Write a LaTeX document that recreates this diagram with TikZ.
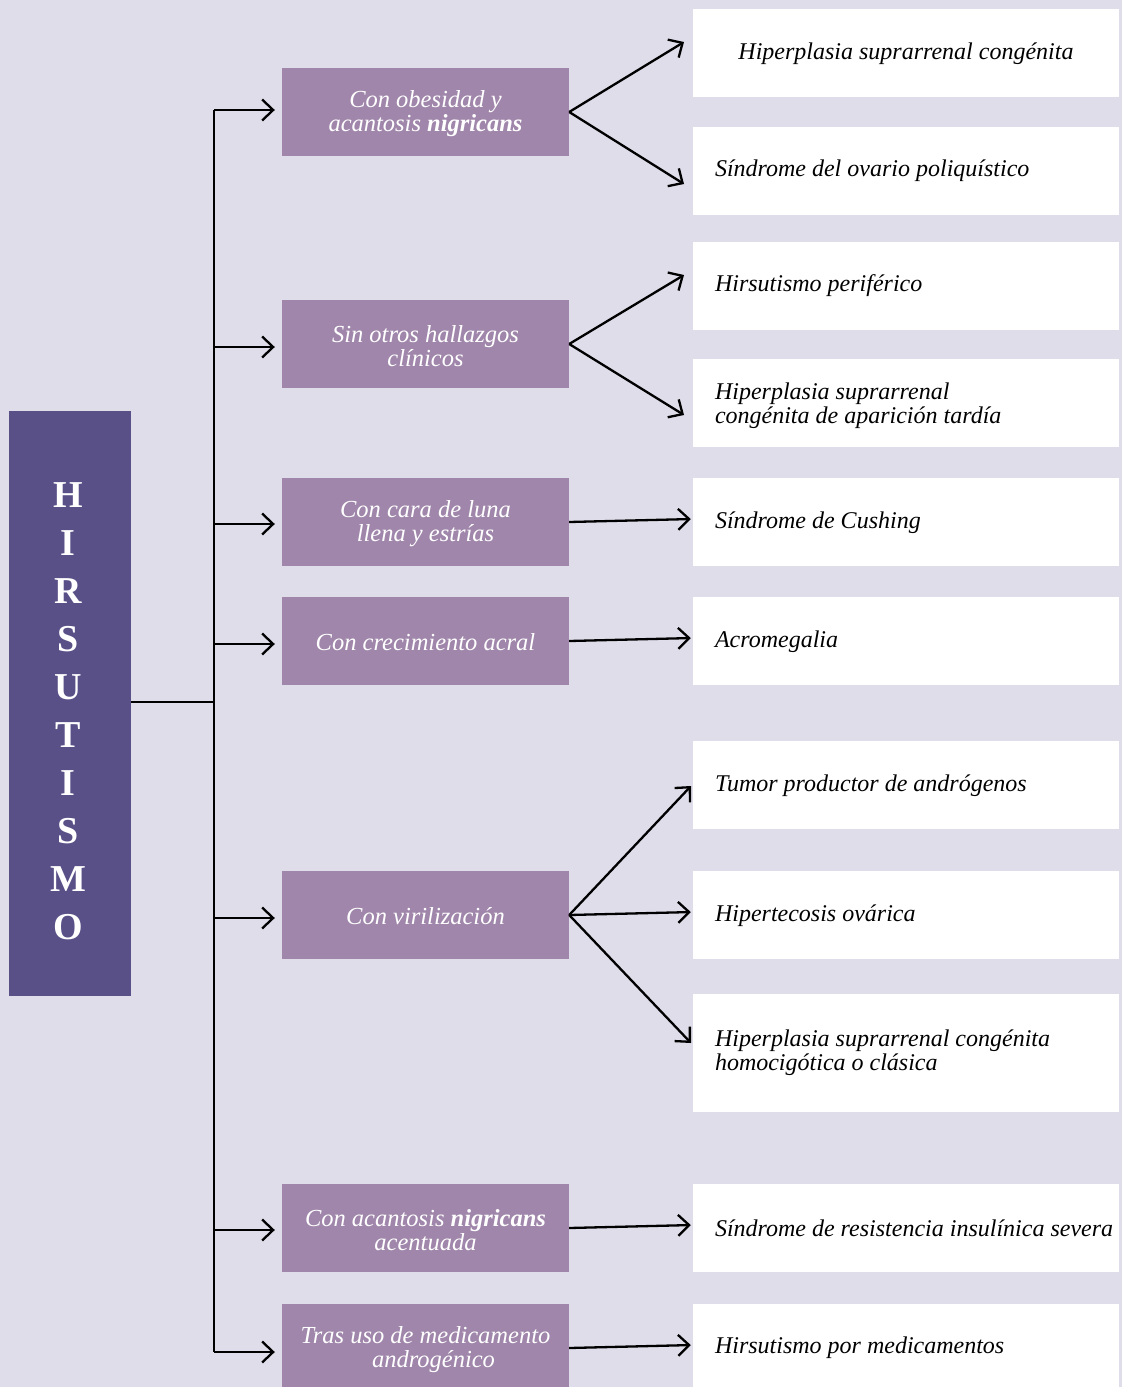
\documentclass[tikz,border=0pt]{standalone}
\usepackage{fontspec}
\setmainfont{Liberation Serif}
\usetikzlibrary{arrows.meta,calc}
\definecolor{bgc}{HTML}{DFDDEA}
\definecolor{mainc}{HTML}{5A5088}
\definecolor{midc}{HTML}{A086AA}
\begin{document}
\begin{tikzpicture}[x=1pt,y=-1pt,
  mainbox/.style={fill=mainc, minimum width=122pt, minimum height=585pt, inner sep=0pt},
  maintext/.style={text=white, font=\fontsize{38}{48}\selectfont\bfseries, align=center, inner sep=0pt},
  midbox/.style={fill=midc, minimum width=287pt, minimum height=88pt, inner sep=0pt},
  midtext/.style={text=white, align=center, inner sep=0pt, font=\fontsize{24.5}{24}\selectfont\itshape},
  rbox/.style={fill=white, minimum width=426pt, minimum height=88pt, inner sep=0pt},
  rtext/.style={anchor=west, align=left, inner sep=0pt, font=\fontsize{24}{24}\selectfont\itshape},
  conn/.style={draw=black, line width=2.3pt},
  arr/.style={conn, -{Straight Barb[length=11pt,width=21pt]}}
]
\fill[bgc] (0,0) rectangle (1122,1387);
\useasboundingbox (0,0) rectangle (1122,1387);
\clip (0,0) rectangle (1122,1387);

% main box
\node[mainbox] (hir) at (70,703.5) {};
\node[maintext] (hirt) at (68,711) {H\\I\\R\\S\\U\\T\\I\\S\\M\\O};

% middle boxes
\node[midbox] (m1) at (425.5,112) {};
\node[midbox] (m2) at (425.5,344) {};
\node[midbox] (m3) at (425.5,522) {};
\node[midbox] (m4) at (425.5,641) {};
\node[midbox] (m5) at (425.5,915) {};
\node[midbox] (m6) at (425.5,1228) {};
\node[midbox] (m7) at (425.5,1348) {};
\node[midtext] (m1t) at ($(m1.center)+(0,2)$) {Con obesidad y\\acantosis \textbf{nigricans}};
\node[midtext] (m2t) at ($(m2.center)+(0,2)$) {Sin otros hallazgos\\clínicos};
\node[midtext] (m3t) at ($(m3.center)+(0,2)$) {Con cara de luna\\llena y estrías};
\node[midtext] (m4t) at ($(m4.center)+(0,1)$) {Con crecimiento acral};
\node[midtext] (m5t) at ($(m5.center)+(0,1)$) {Con virilización};
\node[midtext] (m6t) at ($(m6.center)+(0,2)$) {Con acantosis \textbf{nigricans}\\acentuada};
\node[midtext] (m7t) at ($(m7.center)+(0,2)$) {Tras uso de medicamento\\\hspace*{16pt}androgénico};

% right boxes
\node[rbox] (r1) at (906,53) {};
\node[rbox] (r2) at (906,171) {};
\node[rbox] (r3) at (906,286) {};
\node[rbox] (r4) at (906,403) {};
\node[rbox] (r5) at (906,522) {};
\node[rbox] (r6) at (906,641) {};
\node[rbox] (r7) at (906,785) {};
\node[rbox] (r8) at (906,915) {};
\node[rbox, minimum height=118pt] (r9) at (906,1053) {};
\node[rbox] (r10) at (906,1228) {};
\node[rbox] (r11) at (906,1348) {};

\node[rtext, anchor=center] (r1t) at ($(r1.center)+(0,1)$) {Hiperplasia suprarrenal congénita};
\node[rtext] (r2t) at ($(r2.west)+(22,0)$) {Síndrome del ovario poliquístico};
\node[rtext] (r3t) at ($(r3.west)+(22,0)$) {Hirsutismo periférico};
\node[rtext] (r4t) at ($(r4.west)+(22,3)$) {Hiperplasia suprarrenal\\congénita de aparición tardía};
\node[rtext] (r5t) at ($(r5.west)+(22,1)$) {Síndrome de Cushing};
\node[rtext] (r6t) at ($(r6.west)+(22,1)$) {Acromegalia};
\node[rtext] (r7t) at ($(r7.west)+(22,1)$) {Tumor productor de andrógenos};
\node[rtext] (r8t) at ($(r8.west)+(22,1)$) {Hipertecosis ovárica};
\node[rtext] (r9t) at ($(r9.west)+(22,0)$) {Hiperplasia suprarrenal congénita\\homocigótica o clásica};
\node[rtext] (r10t) at ($(r10.west)+(22,0)$) {Síndrome de resistencia insulínica severa};
\node[rtext] (r11t) at ($(r11.west)+(22,0)$) {Hirsutismo por medicamentos};

% trunk
\coordinate (tk) at (214,702);
\draw[conn] (hir.east |- tk) -- (tk);
\draw[conn] ($(tk |- m1.west)+(0,-2)$) -- ($(tk |- m7.west)+(0,4)$);
\foreach \m/\d in {m1/-2,m2/3,m3/2,m4/3,m5/3,m6/2,m7/4}
  \draw[arr, shorten >=7pt] ($(tk |- \m.west)+(0,\d)$) -- ($(\m.west)+(0,\d)$);

% end points of the fanning connectors
\coordinate (e1) at (684,42);
\coordinate (e2) at (684,184);
\coordinate (e3) at (684,275);
\coordinate (e4) at (684,415);
\coordinate (e7) at (691,786);
\coordinate (e9) at (691,1043);

\draw[arr] (m1.east) -- (e1);
\draw[arr] (m1.east) -- (e2);
\draw[arr] (m2.east) -- (e3);
\draw[arr] (m2.east) -- (e4);
\draw[arr, shorten >=2pt] (m3.east) -- ($(r5.west)+(0,-3)$);
\draw[arr, shorten >=2pt] (m4.east) -- ($(r6.west)+(0,-3)$);
\draw[arr] (m5.east) -- (e7);
\draw[arr, shorten >=2pt] (m5.east) -- ($(r8.west)+(0,-3)$);
\draw[arr] (m5.east) -- (e9);
\draw[arr, shorten >=2pt] (m6.east) -- ($(r10.west)+(0,-3)$);
\draw[arr, shorten >=2pt] (m7.east) -- ($(r11.west)+(0,-3)$);
\end{tikzpicture}
\end{document}
